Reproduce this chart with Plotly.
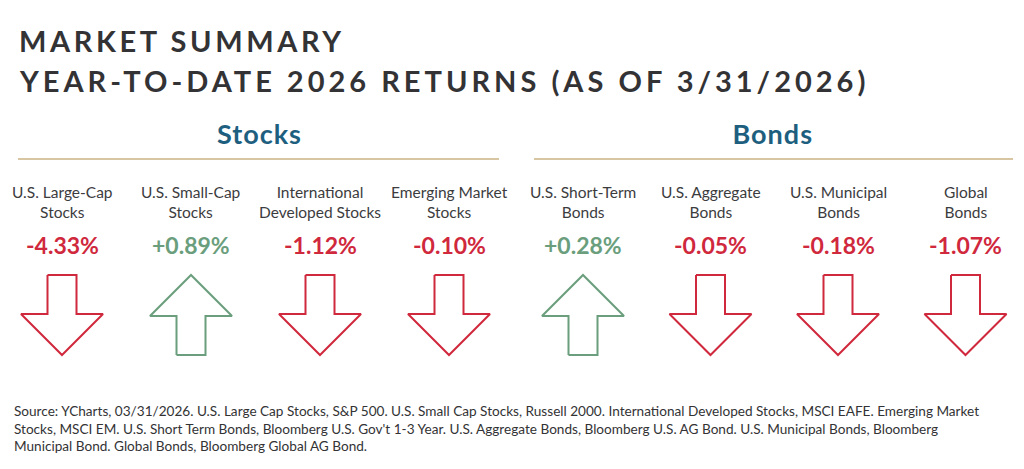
import plotly.graph_objects as go

# data
TITLE_1 = "MARKET SUMMARY"
TITLE_2 = "YEAR-TO-DATE 2026 RETURNS (AS OF 3/31/2026)"
groups = ["Stocks", "Bonds"]
stock_labels = ["U.S. Large-Cap<br>Stocks", "U.S. Small-Cap<br>Stocks",
                "International<br>Developed Stocks", "Emerging Market<br>Stocks"]
bond_labels = ["U.S. Short-Term<br>Bonds", "U.S. Aggregate<br>Bonds",
               "U.S. Municipal<br>Bonds", "Global<br>Bonds"]
stock_returns = [-4.33, 0.89, -1.12, -0.10]
bond_returns = [0.28, -0.05, -0.18, -1.07]
SOURCE = ("Source: YCharts, 03/31/2026. U.S. Large Cap Stocks, S&P 500. U.S. Small Cap Stocks, Russell 2000. "
          "International Developed Stocks, MSCI EAFE. Emerging Market<br>Stocks, MSCI EM. U.S. Short Term Bonds, "
          "Bloomberg U.S. Gov't 1-3 Year. U.S. Aggregate Bonds, Bloomberg U.S. AG Bond. U.S. Municipal Bonds, Bloomberg"
          "<br>Municipal Bond. Global Bonds, Bloomberg Global AG Bond.")

RED = "#d0283c"
GREEN = "#6a9e7d"
BLUE = "#1e5f80"
TAN = "#d8c6a3"
DARK = "#333335"
W, H = 1024, 469


def arrow_path(cx, up):
    # outline of a block arrow centred on cx, top at 275 and bottom at 355
    sw, hw = 14.5, 41
    top, bot = 275, 355
    xs = [cx - sw, cx + sw, cx + sw, cx + hw, cx, cx - hw, cx - sw, cx - sw]
    if up:
        base = 316
        ys = [bot, bot, base, base, top, base, base, bot]
    else:
        base = 314
        ys = [top, top, base, base, bot, base, base, top]
    return xs, ys


fig = go.Figure()
annotations = []

columns = [(62, 129, stock_labels, stock_returns), (583, 127.5, bond_labels, bond_returns)]
for x0, step, labels, returns in columns:
    for i, (lab, r) in enumerate(zip(labels, returns)):
        cx = x0 + step * i
        color = GREEN if r > 0 else RED
        xs, ys = arrow_path(cx, r > 0)
        fig.add_trace(go.Scatter(x=xs, y=ys, mode="lines", hoverinfo="skip",
                                 line=dict(color=color, width=2), showlegend=False))
        annotations.append(dict(x=cx, y=202, text=lab, showarrow=False, yanchor="middle",
                                font=dict(family="Lato", size=15.5, color="#3c3c3e")))
        annotations.append(dict(x=cx, y=245, text=f"{r:+.2f}%", showarrow=False,
                                yanchor="middle",
                                font=dict(family="Lato", size=23, color=color, weight="bold")))

# section headings and rules
for name, cx, xa, xb in [(groups[0], 259, 18, 499), (groups[1], 773, 534, 1013)]:
    annotations.append(dict(x=cx, y=133, text=name, showarrow=False, yanchor="middle",
                            font=dict(family="Lato", size=27, color=BLUE, weight="bold")))
    fig.add_shape(type="line", x0=xa, x1=xb, y0=159, y1=159, line=dict(color=TAN, width=2))

annotations.append(dict(x=17, y=40, text=TITLE_1, showarrow=False, xanchor="left", align="left",
                        yanchor="middle", font=dict(family="Lato", size=29, color=DARK, weight="bold")))
annotations.append(dict(x=17, y=80, text=TITLE_2, showarrow=False, xanchor="left", align="left",
                        yanchor="middle", font=dict(family="Lato", size=29, color=DARK, weight="bold")))
annotations.append(dict(x=12, y=428, text=SOURCE, showarrow=False, xanchor="left", align="left",
                        yanchor="middle", font=dict(family="Lato", size=13.6, color=DARK)))

fig.update_layout(width=W, height=H, margin=dict(l=0, r=0, t=0, b=0),
                  paper_bgcolor="white", plot_bgcolor="white",
                  xaxis=dict(range=[0, W], visible=False, fixedrange=True),
                  yaxis=dict(range=[H, 0], visible=False, fixedrange=True),
                  annotations=annotations, hovermode=False)

# page margin off, and letter spacing for the titles (plotly has no tracking option)
track_js = """
document.body.style.margin = '0';
var gd = document.getElementById('{plot_id}');
function track(){
  gd.querySelectorAll('.annotation-text').forEach(function(t){
    var s = t.textContent;
    if (s.indexOf('MARKET') === 0) t.style.letterSpacing = '3.6px';
    if (s.indexOf('YEAR') === 0) t.style.letterSpacing = '4px';
    if (s === 'Stocks' || s === 'Bonds') t.style.letterSpacing = '1px';
  });
}
track();
gd.on('plotly_afterplot', track);
"""
fig.write_html("out.html", config={"displayModeBar": False}, post_script=track_js)
